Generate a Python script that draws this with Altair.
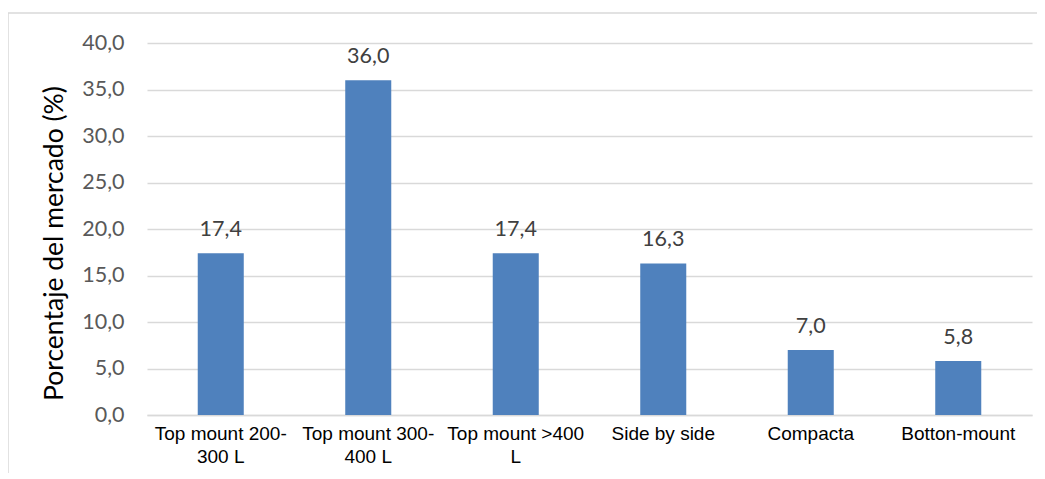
import altair as alt
import pandas as pd

categories = ["Top mount 200-|300 L", "Top mount 300-|400 L", "Top mount >400|L",
              "Side by side", "Compacta", "Botton-mount"]
values = [17.4, 36.0, 17.4, 16.3, 7.0, 5.8]
y_ticks = [0, 5, 10, 15, 20, 25, 30, 35, 40]

df = pd.DataFrame({"cat": categories, "val": values})
df["lbl"] = [f"{v:.1f}".replace(".", ",") for v in values]

x = alt.X("cat:N", sort=categories, title=None,
          scale=alt.Scale(paddingInner=0.688, paddingOuter=0.344),
          axis=alt.Axis(labelAngle=0, labelExpr="split(datum.label, '|')",
                        labelFont="Liberation Sans", labelFontSize=19,
                        labelColor="#000000", labelPadding=9, labelLineHeight=23,
                        ticks=False, domainColor="#D9D9D9", domainWidth=1.5,
                        labelBaseline="top"))
y = alt.Y("val:Q", title="Porcentaje del mercado (%)",
          scale=alt.Scale(domain=[0, 40], nice=False),
          axis=alt.Axis(values=y_ticks,
                        labelExpr="replace(format(datum.value, '.1f'), '.', ',')",
                        labelFont="Lato", labelFontSize=21.5, labelColor="#595959",
                        labelPadding=23, ticks=False, domain=False,
                        gridColor="#D9D9D9", gridWidth=1.5,
                        titleFont="Lato", titleFontSize=26.5, titleFontWeight="normal",
                        titleColor="#000000", titlePadding=13, titleY=200))

bars = alt.Chart(df).mark_bar(color="#4F81BD").encode(x=x, y=y)
text = alt.Chart(df).mark_text(font="Lato", fontSize=21.5, color="#404040",
                               baseline="alphabetic", dy=-17).encode(
    x=alt.X("cat:N", sort=categories), y="val:Q", text="lbl:N")

border = alt.Chart(pd.DataFrame({"a": [0]})).mark_rect(
    fill=None, stroke="#D9D9D9", strokeWidth=1.5).encode(
    x=alt.value(-139), x2=alt.value(1000), y=alt.value(-30), y2=alt.value(600))

chart = alt.layer(border, bars, text).properties(
    width=885, height=372,
    autosize=alt.AutoSizeParams(type="none"),
    padding={"left": 139, "top": 35, "right": 5, "bottom": 58},
).configure_view(stroke=None)

chart.save("out.html", embed_options={"renderer": "svg", "actions": False})
